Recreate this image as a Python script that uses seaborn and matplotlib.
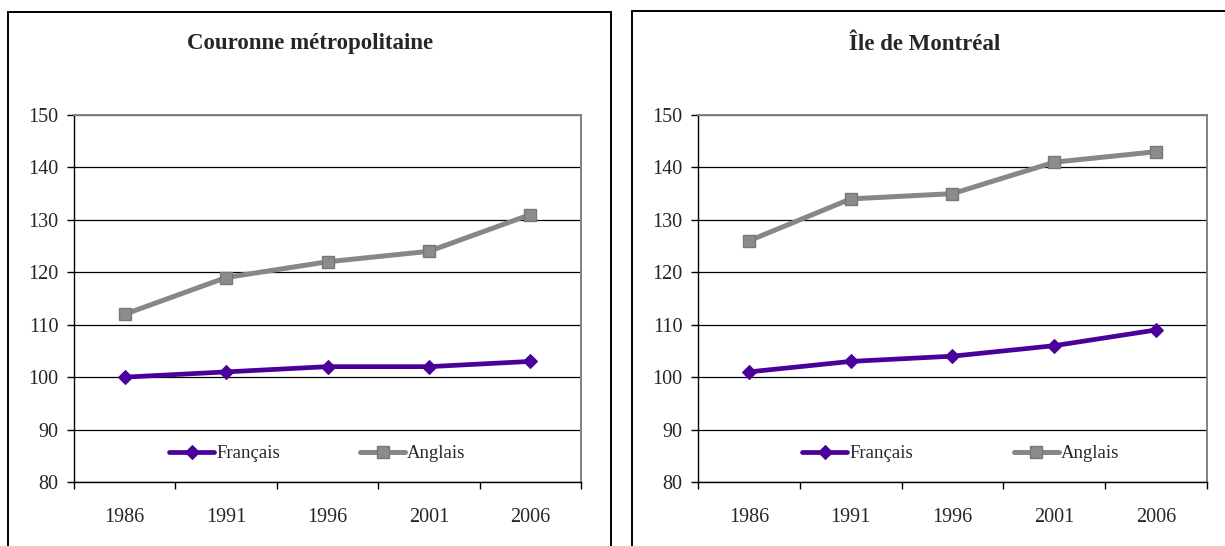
import numpy as np
import pandas as pd
import matplotlib
matplotlib.use('Agg')
import matplotlib.pyplot as plt
from matplotlib.patches import Rectangle
from matplotlib.ticker import MultipleLocator, FixedLocator
import seaborn as sns

# Data
annees = ['1986', '1991', '1996', '2001', '2006']
couronne_fr = [100, 101, 102, 102, 103]
couronne_an = [112, 119, 122, 124, 131]
montreal_fr = [101, 103, 104, 106, 109]
montreal_an = [126, 134, 135, 141, 143]
titres = ['Couronne métropolitaine', 'Île de Montréal']

sns.set_style('white')
plt.rcParams['font.family'] = ['Liberation Serif', 'DejaVu Serif']

purple = '#4B0099'
gray = '#878787'

fig = plt.figure(figsize=(12.25, 5.46), dpi=100)
W, H = 1225, 546

# panel frames (figure pixels)
frames = [(8, 12, 611), (632, 11, 1240)]
for x0, y0, x1 in frames:
    fig.patches.append(Rectangle((x0 / W, -0.05), (x1 - x0) / W, 1 - y0 / H + 0.05,
                                 transform=fig.transFigure, fill=False,
                                 edgecolor='black', lw=1.4))

axes_px = [(74, 581), (698, 1207)]
panels = [(couronne_fr, couronne_an), (montreal_fr, montreal_an)]
title_x = [310, 925]
leg_x = [0.48, 0.516]
leg_gap = [4.3, 5.4]
top_px, bot_px = 115, 482

for i, ((x0, x1), (fr, an)) in enumerate(zip(axes_px, panels)):
    ax = fig.add_axes([x0 / W, 1 - bot_px / H, (x1 - x0) / W, (bot_px - top_px) / H])
    df_fr = pd.DataFrame({'Année': annees, 'Indice': fr})
    df_an = pd.DataFrame({'Année': annees, 'Indice': an})
    sns.lineplot(data=df_fr, x='Année', y='Indice', ax=ax, color=purple, lw=3.4,
                 marker='D', markersize=6.8, markeredgecolor=purple,
                 label='Français', sort=False)
    sns.lineplot(data=df_an, x='Année', y='Indice', ax=ax, color=gray, lw=3.6,
                 marker='s', markersize=8.5, markerfacecolor='#8c8c8c',
                 markeredgecolor='#777777', markeredgewidth=1,
                 label='Anglais', sort=False)

    ax.set_xlim(-0.5, len(annees) - 0.5)
    ax.set_ylim(80, 150)
    ax.yaxis.set_major_locator(MultipleLocator(10))
    ax.grid(axis='y', color='black', lw=0.9)
    ax.set_axisbelow(True)
    ax.set_xlabel('')
    ax.set_ylabel('')

    for s in ['top', 'right']:
        ax.spines[s].set_color('#808080')
        ax.spines[s].set_linewidth(1.4)
    for s in ['left', 'bottom']:
        ax.spines[s].set_color('black')
        ax.spines[s].set_linewidth(1.0)

    ax.xaxis.set_minor_locator(FixedLocator(np.arange(-0.5, len(annees), 1.0)))
    ax.tick_params(axis='x', which='major', length=0, pad=19, labelsize=14.5)
    ax.tick_params(axis='x', which='minor', length=5, width=1, color='black',
                   direction='out', bottom=True)
    ax.tick_params(axis='y', which='major', length=5, width=1, color='black',
                   direction='out', left=True, labelsize=14.5, pad=6)

    ax.legend(loc='center', bbox_to_anchor=(leg_x[i], 0.077), ncol=2, frameon=False,
              fontsize=13.5, handlelength=2.4, handletextpad=0.1,
              columnspacing=leg_gap[i], borderaxespad=0)

    fig.text(title_x[i] / W, 1 - 44 / H, titres[i], ha='center', va='center',
             fontsize=16.5, fontweight='bold')

fig.savefig('out.png', dpi=100)
